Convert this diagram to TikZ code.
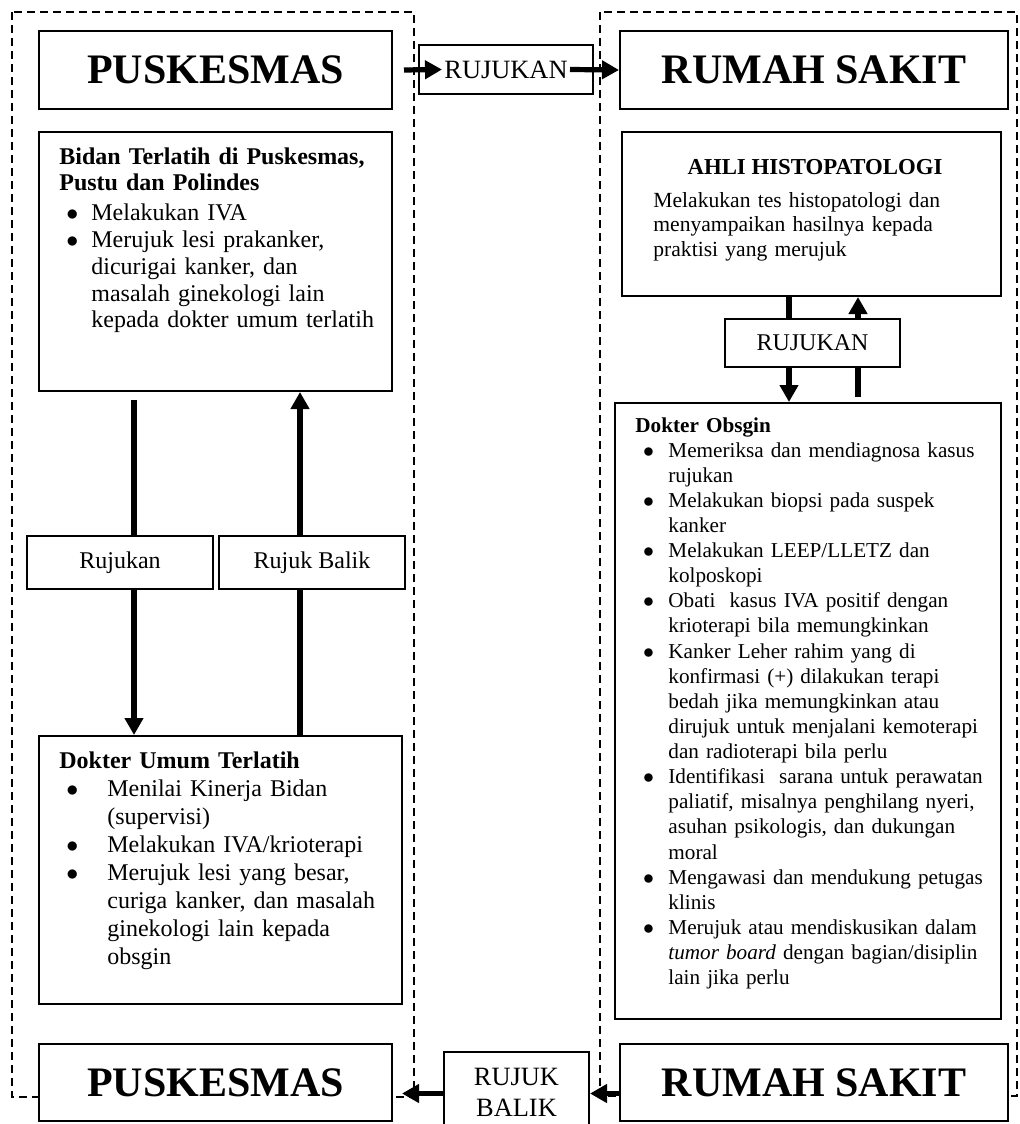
\documentclass[tikz,border=0pt]{standalone}
\usepackage{fontspec}
\setmainfont{Liberation Serif}
\usetikzlibrary{arrows.meta,calc}

% titik daftar: [jarak titik]{jarak teks}
\newcommand{\bul}[2][3.5pt]{\makebox[#2][l]{\hspace{#1}$\bullet$}}
\newcommand{\lanjut}[1]{\hspace*{#1}}

\begin{document}
\begin{tikzpicture}[x=0.5pt, y=-0.5pt,
	kotak/.style={draw, line width=1pt, fill=white, anchor=north west, inner sep=0pt},
	judul/.style={kotak, font=\fontsize{21}{25}\selectfont\bfseries},
	ket/.style={kotak, font=\fontsize{12}{14}\selectfont},
	teks/.style={anchor=base west, inner sep=0pt, align=left},
	bingkai/.style={line width=0.6pt, dash pattern=on 4pt off 2.5pt},
	panah/.style={line width=2.6pt, -{Triangle[length=8.5pt, width=9pt]}}]
	\useasboundingbox (0,0) rectangle (1019,1124);
	\clip (0,0) rectangle (1019,1124);

	% Bingkai putus-putus
	\draw[bingkai] (12,12) rectangle (414,1097);
	\draw[bingkai] (600,12) rectangle (1017,1096);

	% Baris atas
	\node[judul, minimum width=176.5pt, minimum height=39pt] (puskA) at (38,30) {PUSKESMAS};
	\node[judul, minimum width=194pt, minimum height=39pt] (rsA) at (619,30) {RUMAH SAKIT};
	\node[kotak, minimum width=87pt, minimum height=24.5pt, font=\fontsize{13.2}{15}\selectfont] (rujA) at (418,44) {RUJUKAN};

	% Baris bawah
	\node[judul, minimum width=176.5pt, minimum height=38.5pt] (puskB) at (38,1043) {PUSKESMAS};
	\node[judul, minimum width=194pt, minimum height=38.5pt] (rsB) at (619,1043) {RUMAH SAKIT};
	\node[kotak, minimum width=72.5pt, minimum height=40pt, align=center, font=\fontsize{13.2}{15.5}\selectfont] (balik) at (443,1051) {RUJUK\\BALIK};

	% Kolom kiri
	\node[kotak, minimum width=176.5pt, minimum height=129.5pt] (bidan) at (38,131) {};
	\node[teks, text width=166pt, font=\fontsize{12}{13.4}\selectfont] (bidanTeks) at (59,164) {\textbf{Bidan Terlatih di Puskesmas,}\\
		\textbf{Pustu dan Polindes}\\[1.5pt]
		\bul{16pt}Melakukan IVA\\
		\bul{16pt}Merujuk lesi prakanker,\\
		\lanjut{16pt}dicurigai kanker, dan\\
		\lanjut{16pt}masalah ginekologi lain\\
		\lanjut{16pt}kepada dokter umum terlatih};

	\node[kotak, minimum width=181.5pt, minimum height=134pt] (umum) at (38,735) {};
	\node[teks, text width=170pt, font=\fontsize{12}{14}\selectfont] (umumTeks) at (59,768) {\textbf{Dokter Umum Terlatih}\\
		\bul{24pt}Menilai Kinerja Bidan\\
		\lanjut{24pt}(supervisi)\\
		\bul{24pt}Melakukan IVA/krioterapi\\
		\bul{24pt}Merujuk lesi yang besar,\\
		\lanjut{24pt}curiga kanker, dan masalah\\
		\lanjut{24pt}ginekologi lain kepada\\
		\lanjut{24pt}obsgin};

	% Kolom kanan
	\node[kotak, minimum width=189.5pt, minimum height=82pt] (ahli) at (621,131) {};
	\node[anchor=base, inner sep=0pt, font=\fontsize{11.4}{13}\selectfont\bfseries] (ahliJudul) at (815,174) {AHLI HISTOPATOLOGI};
	\node[teks, text width=170pt, font=\fontsize{10.8}{12.35}\selectfont] (ahliTeks) at (653,207) {Melakukan tes histopatologi dan\\
		menyampaikan hasilnya kepada\\
		praktisi yang merujuk};

	\node[kotak, minimum width=193pt, minimum height=308pt] (obsgin) at (614,402) {};
	\node[teks, text width=182pt, font=\fontsize{10.6}{12.56}\selectfont] (obsginTeks) at (635,432) {\textbf{Dokter Obsgin}\\
		\bul[3.9pt]{16.5pt}Memeriksa dan mendiagnosa kasus\\
		\lanjut{16.5pt}rujukan\\
		\bul[3.9pt]{16.5pt}Melakukan biopsi pada suspek\\
		\lanjut{16.5pt}kanker\\
		\bul[3.9pt]{16.5pt}Melakukan LEEP/LLETZ dan\\
		\lanjut{16.5pt}kolposkopi\\
		\bul[3.9pt]{16.5pt}Obati\ \ kasus IVA positif dengan\\
		\lanjut{16.5pt}krioterapi bila memungkinkan\\
		\bul[3.9pt]{16.5pt}Kanker Leher rahim yang di\\
		\lanjut{16.5pt}konfirmasi (+) dilakukan terapi\\
		\lanjut{16.5pt}bedah jika memungkinkan atau\\
		\lanjut{16.5pt}dirujuk untuk menjalani kemoterapi\\
		\lanjut{16.5pt}dan radioterapi bila perlu\\
		\bul[3.9pt]{16.5pt}Identifikasi\ \ sarana untuk perawatan\\
		\lanjut{16.5pt}paliatif, misalnya penghilang nyeri,\\
		\lanjut{16.5pt}asuhan psikologis, dan dukungan\\
		\lanjut{16.5pt}moral\\
		\bul[3.9pt]{16.5pt}Mengawasi dan mendukung petugas\\
		\lanjut{16.5pt}klinis\\
		\bul[3.9pt]{16.5pt}Merujuk atau mendiskusikan dalam\\
		\lanjut{16.5pt}\textit{tumor board} dengan bagian/disiplin\\
		\lanjut{16.5pt}lain jika perlu};

	% Panah tegak (di bawah kotak keterangan)
	\coordinate (kA) at ([xshift=48pt,yshift=-4pt]bidan.south west);
	\coordinate (kB) at ([xshift=131pt]umum.north west);
	\coordinate (kC) at ([xshift=84pt]ahli.south west);
	\coordinate (kD) at ([xshift=122pt,yshift=2.5pt]obsgin.north west);
	\draw[panah] (kA) -- (kA |- umum.north);
	\draw[panah] (kB) -- (kB |- bidan.south);
	\draw[panah] (kC) -- (kC |- obsgin.north);
	\draw[panah] (kD) -- (kD |- ahli.south);

	% Kotak keterangan
	\node[ket, minimum width=93pt, minimum height=26.5pt] (rujL) at (26,535) {Rujukan};
	\node[ket, minimum width=93pt, minimum height=26.5pt] (balikL) at (218,535) {Rujuk Balik};
	\node[ket, minimum width=87.5pt, minimum height=24pt] (rujR) at (724,318) {RUJUKAN};

	% Panah mendatar
	\draw[panah] ([xshift=5.5pt]puskA.east) -- ([xshift=12pt]rujA.west);
	\draw[panah] ([xshift=-12pt]rujA.east) -- (rsA.west);
	\coordinate (kE) at ([yshift=-5.5pt]rsB.west);
	\draw[panah] (kE) -- (kE -| balik.east);
	\draw[panah] (kE -| balik.west) -- ($(kE -| puskB.east)+(9,0)$);
\end{tikzpicture}
\end{document}
